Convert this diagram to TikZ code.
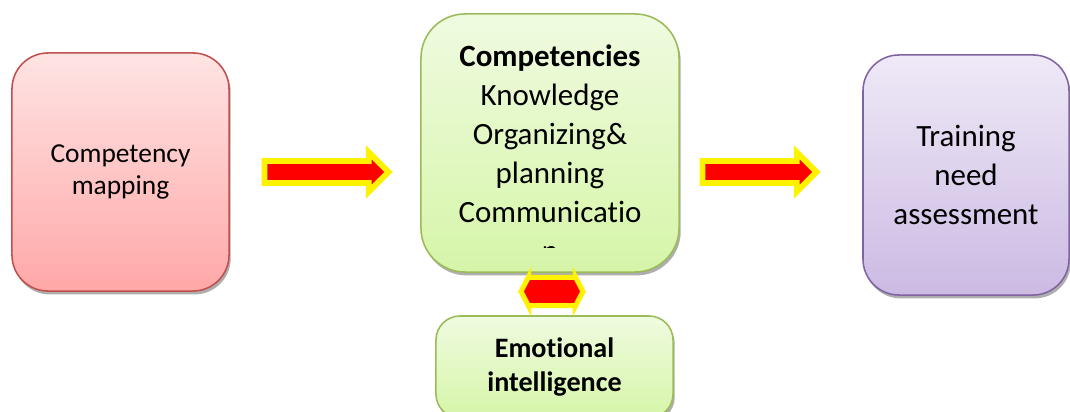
\documentclass[tikz,border=0pt]{standalone}
\usepackage{fontspec}
\setmainfont{Carlito}[Ligatures={NoCommon,NoRare}]
\usepackage{xcolor}
\usetikzlibrary{shapes.arrows,shadows,calc}

\definecolor{redline}{HTML}{C0504D}
\definecolor{redtop}{HTML}{FFE4E4}
\definecolor{redbot}{HTML}{FFA8A8}
\definecolor{greenline}{HTML}{9BBB59}
\definecolor{greentop}{HTML}{EFFBE0}
\definecolor{greenbot}{HTML}{D6F5A8}
\definecolor{purpleline}{HTML}{8064A2}
\definecolor{purpletop}{HTML}{EFE9F7}
\definecolor{purplebot}{HTML}{CCBAE3}

\begin{document}
\begin{tikzpicture}[x=0.025cm,y=-0.025cm,
            box/.style={shape=rectangle, rounded corners=0.9cm, line width=1.1pt, align=center,
                inner sep=0pt, drop shadow={shadow xshift=1.2pt, shadow yshift=-2.4pt, fill=black!45, opacity=.7}},
            redbox/.style={box, draw=redline, top color=redtop, bottom color=redbot},
            greenbox/.style={box, draw=greenline, top color=greentop, bottom color=greenbot},
            purplebox/.style={box, draw=purpleline, top color=purpletop, bottom color=purplebot},
            fatarrow/.style={shape=single arrow, draw=yellow, fill=red, line width=4.2pt, inner xsep=0pt,
                inner ysep=0.2cm, text height=0pt, text depth=0pt, text width=0pt,
                single arrow head extend=0.22cm, minimum height=3.1cm},
            twoarrow/.style={shape=double arrow, draw=yellow, fill=red, line width=3.6pt, inner xsep=0pt,
                inner ysep=0.29cm, text height=0pt, text depth=0pt, text width=0pt,
                double arrow head extend=0.01cm, double arrow tip angle=125, minimum height=1.55cm}]
        \useasboundingbox (0,0) rectangle (1070,412);

        \node[redbox, minimum width=5.425cm, minimum height=5.95cm,
            font=\fontsize{19.5}{23}\selectfont] (map) at (120.5,172) {Competency\\ mapping};
        \node[greenbox, rounded corners=1.1cm, minimum width=6.45cm, minimum height=6.45cm] (comp) at (550,143) {};
        \node[purplebox, minimum width=5.15cm, minimum height=6cm,
            font=\fontsize{22}{27.5}\selectfont] (tna) at (966,175) {Training\\ need\\ assessment};
        \node[greenbox, rounded corners=0.6cm, minimum width=5.925cm, minimum height=2.55cm,
            font=\fontsize{20}{24.2}\selectfont\bfseries] (emo) at (554.5,367) {Emotional\\ intelligence};

        % text of the middle box runs over its lower edge
        \begin{scope}
            \clip (421,14) rectangle (679,248);
            \node[align=center, inner sep=0pt, font=\fontsize{22}{27.7}\selectfont] (comptext) at (550,153)
                {\textbf{Competencies}\\ Knowledge\\ Organizing\&\\ planning\\ Communicatio\\ n};
        \end{scope}

        \node[fatarrow] (a1) at (321,172) {};
        \node[fatarrow, minimum height=2.85cm] (a2) at (754,172) {};
        \node[twoarrow] (a3) at ($(comp.south)!0.44!(emo.north)$) {};
\end{tikzpicture}
\end{document}
